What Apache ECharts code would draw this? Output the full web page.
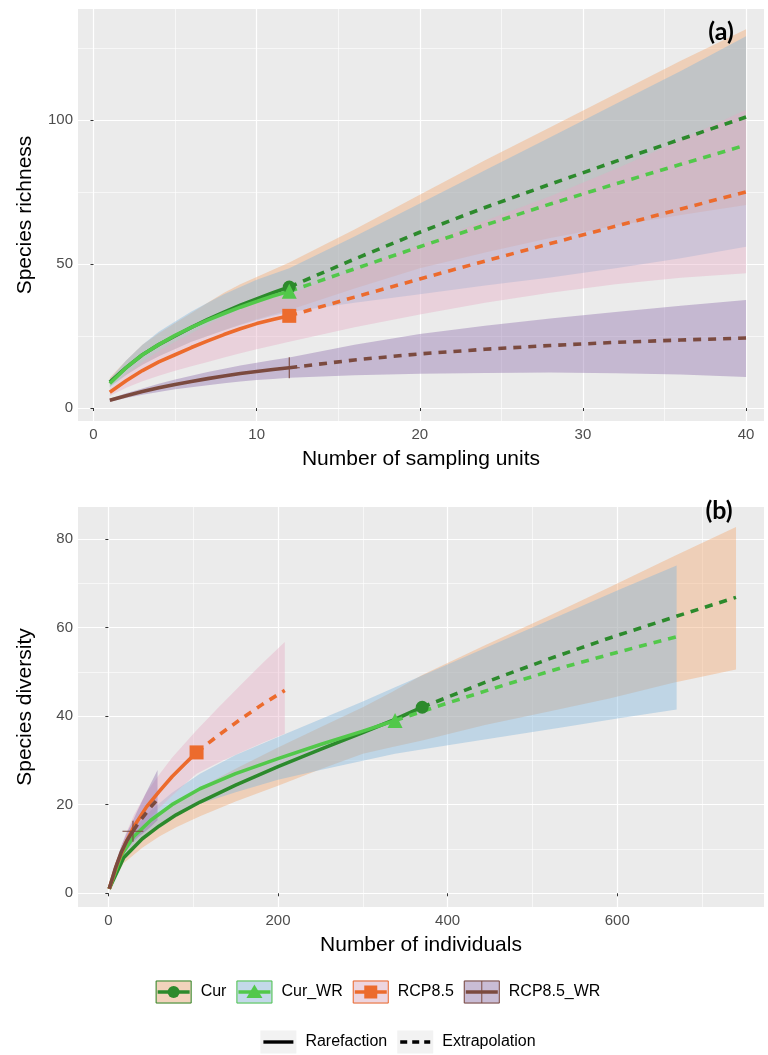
<!DOCTYPE html>
<html>
<head>
<meta charset="utf-8">
<script src="https://cdn.jsdelivr.net/npm/echarts@6/dist/echarts.min.js"></script>
<style>
  html, body { margin: 0; padding: 0; background: #ffffff; }
  #chart { width: 768px; height: 1055px; }
</style>
</head>
<body>
<div id="chart"></div>
<script>
// ---------- Assemblages ----------
const groups = ['Cur', 'Cur_WR', 'RCP8.5', 'RCP8.5_WR'];
const lineColors = ['#2C8A2C', '#52C84A', '#EC6B2D', '#7B4A3F'];
const bandColors = ['#F2A66B', '#7DB5DC', '#E7A9C4', '#8B6BAA'];

// ---------- Panel (a): sampling units ----------
const unitsA = [1, 2, 3, 4, 5, 6, 7, 8, 9, 10, 11, 12, 16, 20, 24, 28, 32, 36, 40];
const refIndexA = 11; // observed sample: 12 sampling units

const curA     = [9, 14, 18.5, 22, 25, 28, 30.8, 33.3, 35.7, 37.9, 40, 42, 51.7, 61, 69.6, 77.7, 85.6, 93.3, 101];
const curLoA   = [7.5, 11.5, 15, 18, 20.5, 23, 25, 27, 29, 30.8, 32.5, 34, 41.5, 48.5, 54, 59, 63.3, 67, 70.5];
const curHiA   = [10.5, 16.5, 22, 26, 29.5, 33, 36.5, 40, 43, 45.5, 48, 50.5, 62, 74, 86, 97.5, 109, 120.5, 131.5];

const curWrA   = [8.5, 14, 18.5, 22, 25.2, 28, 30.5, 32.8, 35, 37, 38.9, 40.5, 48.3, 56, 63.5, 70.8, 77.8, 84.6, 91.3];
const curWrLoA = [7, 11.5, 15, 18, 20.5, 23, 25, 27, 28.8, 30.5, 32, 33.3, 36.5, 39.5, 42.5, 45.3, 48.5, 52, 56];
const curWrHiA = [10, 16.5, 22, 26.5, 30, 33.5, 36.5, 39.5, 42, 44.5, 46.5, 48.5, 59.5, 71, 82.5, 94, 105.5, 117, 129];

const rcpA     = [5.5, 9.5, 13, 16, 18.5, 21, 23.3, 25.5, 27.5, 29.3, 30.7, 32, 38.5, 44.8, 51, 57.1, 63.1, 69.1, 75];
const rcpLoA   = [4.2, 7, 9.3, 11.2, 12.9, 14.5, 16, 17.5, 19, 20.4, 21.7, 23, 28, 32.5, 36.5, 40, 43, 45.2, 46.8];
const rcpHiA   = [6.8, 11.8, 16, 19.8, 23, 26, 29, 31.8, 34.3, 36.5, 38, 39.5, 48, 56.5, 65, 73.5, 83, 93, 103.5];

const rcpWrA   = [2.7, 4.3, 5.7, 7, 8.2, 9.2, 10.2, 11.1, 12, 12.7, 13.4, 14, 16.7, 18.8, 20.4, 21.7, 22.8, 23.6, 24.3];
const rcpWrLoA = [2.2, 3.5, 4.6, 5.6, 6.5, 7.2, 7.9, 8.6, 9.2, 9.7, 10.1, 10.5, 11.4, 11.9, 12.2, 12.3, 12.1, 11.6, 10.8];
const rcpWrHiA = [3.2, 5.1, 6.8, 8.4, 9.9, 11.2, 12.5, 13.6, 14.8, 15.7, 16.7, 17.5, 22, 25.7, 28.6, 31.1, 33.3, 35.5, 37.5];

const ticksXA = [0, 10, 20, 30, 40];
const ticksYA = [0, 50, 100];

// ---------- Panel (b): number of individuals ----------
const nCurB     = [1, 18, 40, 60, 80, 108, 150, 200, 250, 300, 335, 370, 444, 518, 592, 666, 740];
const refCurB   = 11;
const curB      = [1, 8, 12.3, 15.2, 17.7, 20.6, 24.4, 28.6, 32.5, 36.3, 39, 42, 47.6, 52.8, 57.7, 62.3, 66.8];
const curLoB    = [1, 6.8, 10.3, 12.8, 14.9, 17.4, 20.7, 24.3, 28, 31.5, 33, 34.5, 38, 41, 44, 47.5, 50.5];
const curHiB    = [1, 9.2, 14.3, 17.6, 20.5, 23.8, 28.1, 32.9, 37.5, 42, 45.5, 49.3, 56, 62.5, 69.2, 76, 82.7];

const nCurWrB   = [1, 15, 30, 50, 75, 108, 150, 200, 250, 300, 338, 404, 470, 536, 602, 670];
const refCurWrB = 10;
const curWrB    = [1, 8.5, 12.8, 16.5, 20, 23.6, 27, 30.4, 33.6, 36.6, 39, 43.2, 47.2, 51, 54.5, 57.9];
const curWrLoB  = [1, 7.3, 11, 14.3, 17.3, 20.2, 22.8, 25.6, 27.8, 29.9, 31.5, 33.5, 35.5, 37.5, 39.5, 41.5];
const curWrHiB  = [1, 9.7, 14.6, 18.7, 22.7, 27, 31.2, 35.3, 39.3, 43.3, 46.5, 52, 57.5, 63, 68.5, 74];

const nRcpB     = [1, 10, 20, 30, 45, 60, 75, 90, 104, 130, 156, 182, 208];
const refRcpB   = 8;
const rcpB      = [1, 6.5, 11.2, 15, 19.5, 23, 26.3, 29.2, 31.8, 35.7, 39.3, 42.7, 45.8];
const rcpLoB    = [1, 5.3, 9.2, 12.4, 16.2, 19.2, 22, 24.6, 27, 29.5, 31.8, 34, 36];
const rcpHiB    = [1, 7.7, 13.2, 17.6, 22.8, 26.8, 30.6, 33.8, 36.8, 42, 47, 52, 56.7];

const nRcpWrB   = [1, 8, 15, 22, 29, 36, 44, 51, 58];
const refRcpWrB = 4;
const rcpWrB    = [1, 5.5, 9.2, 11.9, 14, 16, 18, 19.7, 21.2];
const rcpWrLoB  = [1, 4.7, 7.8, 10, 11.6, 12.8, 14, 15.2, 16.5];
const rcpWrHiB  = [1, 6.3, 10.6, 13.8, 16.4, 19.3, 22.5, 25.2, 27.8];

const ticksXB = [0, 200, 400, 600];
const ticksYB = [0, 20, 40, 60, 80];

// ---------- helpers ----------
const FONT = '"Liberation Sans", Arial, sans-serif';
const plusPath = 'path://M0,10L20,10M10,0L10,20';
const symbols = ['circle', 'triangle', 'rect', plusPath];
const symbolSizes = [13, 15, 14, 21];

function zip(xs, ys) { return xs.map((x, i) => [x, ys[i]]); }

function bandSeries(axis, xs, lo, hi, color) {
  return {
    type: 'custom', xAxisIndex: axis, yAxisIndex: axis, silent: true, z: 1,
    data: [[xs[0], lo[0]]],
    renderItem: function (params, api) {
      const pts = [];
      for (let i = 0; i < xs.length; i++) pts.push(api.coord([xs[i], hi[i]]));
      for (let i = xs.length - 1; i >= 0; i--) pts.push(api.coord([xs[i], lo[i]]));
      return { type: 'polygon', shape: { points: pts }, style: { fill: color, opacity: 0.4 } };
    }
  };
}

function curveSeries(axis, xs, ys, ref, k) {
  const out = [];
  out.push({
    type: 'line', xAxisIndex: axis, yAxisIndex: axis, z: 3, silent: true,
    showSymbol: false, smooth: false,
    data: zip(xs.slice(0, ref + 1), ys.slice(0, ref + 1)),
    lineStyle: { color: lineColors[k], width: 3.6, cap: 'butt', join: 'round' }
  });
  out.push({
    type: 'line', xAxisIndex: axis, yAxisIndex: axis, z: 3, silent: true,
    showSymbol: false, smooth: false,
    data: zip(xs.slice(ref), ys.slice(ref)),
    lineStyle: { color: lineColors[k], width: 3.6, type: [8, 7], cap: 'butt', join: 'round' }
  });
  const isPlus = k === 3;
  out.push({
    type: 'scatter', xAxisIndex: axis, yAxisIndex: axis, z: 4, silent: true,
    symbol: symbols[k], symbolSize: symbolSizes[k],
    data: [[xs[ref], ys[ref]]],
    itemStyle: isPlus
      ? { color: 'transparent', borderColor: lineColors[k], borderWidth: 1.1, opacity: 1 }
      : { color: lineColors[k], opacity: 1 }
  });
  return out;
}

const panelA = [
  [curA, curLoA, curHiA], [curWrA, curWrLoA, curWrHiA],
  [rcpA, rcpLoA, rcpHiA], [rcpWrA, rcpWrLoA, rcpWrHiA]
];
const panelB = [
  [nCurB, curB, curLoB, curHiB, refCurB],
  [nCurWrB, curWrB, curWrLoB, curWrHiB, refCurWrB],
  [nRcpB, rcpB, rcpLoB, rcpHiB, refRcpB],
  [nRcpWrB, rcpWrB, rcpWrLoB, rcpWrHiB, refRcpWrB]
];

const series = [];
panelA.forEach((d, k) => series.push(bandSeries(0, unitsA, d[1], d[2], bandColors[k])));
panelB.forEach((d, k) => series.push(bandSeries(1, d[0], d[2], d[3], bandColors[k])));
panelA.forEach((d, k) => series.push(...curveSeries(0, unitsA, d[0], refIndexA, k)));
panelB.forEach((d, k) => series.push(...curveSeries(1, d[0], d[1], d[4], k)));

function xAxisCfg(grid, min, max, step, ticks, name) {
  return {
    type: 'value', gridIndex: grid, min: min, max: max,
    minInterval: step, maxInterval: step,
    name: name, nameLocation: 'middle', nameGap: 28,
    nameTextStyle: { fontSize: 21, color: '#000000', fontFamily: FONT },
    axisLine: { show: false },
    axisTick: { show: true, length: 3, customValues: ticks, lineStyle: { color: '#333333', width: 1 } },
    axisLabel: { customValues: ticks, color: '#4D4D4D', fontSize: 15, margin: 6, fontFamily: FONT },
    splitLine: { show: true, lineStyle: { color: '#FFFFFF', width: 1.2 } },
    minorTick: { show: false, splitNumber: 2 },
    minorSplitLine: { show: true, lineStyle: { color: '#FFFFFF', width: 0.6 } }
  };
}
function yAxisCfg(grid, min, max, step, ticks, name) {
  return {
    type: 'value', gridIndex: grid, min: min, max: max,
    minInterval: step, maxInterval: step,
    name: name, nameLocation: 'middle', nameGap: 42,
    nameTextStyle: { fontSize: 21, color: '#000000', fontFamily: FONT },
    axisLine: { show: false },
    axisTick: { show: true, length: 3, customValues: ticks, lineStyle: { color: '#333333', width: 1 } },
    axisLabel: { customValues: ticks, color: '#4D4D4D', fontSize: 15, margin: 5, fontFamily: FONT },
    splitLine: { show: true, lineStyle: { color: '#FFFFFF', width: 1.2 } },
    minorTick: { show: false, splitNumber: 2 },
    minorSplitLine: { show: true, lineStyle: { color: '#FFFFFF', width: 0.6 } }
  };
}

// ---------- legend (drawn as graphic elements) ----------
const measureCtx = document.createElement('canvas').getContext('2d');
function textWidth(t, size) { measureCtx.font = size + 'px ' + FONT; return measureCtx.measureText(t).width; }

const graphics = [];
const LEG_SIZE = 16, KEY_W = 36, KEY_H = 23, GAP_KT = 9, GAP_ITEM = 10, LEG_CX = 378;

function keyMarker(k, cx, cy) {
  const c = lineColors[k];
  if (k === 0) return [{ type: 'circle', shape: { cx: cx, cy: cy, r: 6 }, style: { fill: c } }];
  if (k === 1) return [{ type: 'polygon', shape: { points: [[cx, cy - 7.5], [cx + 8, cy + 6], [cx - 8, cy + 6]] }, style: { fill: c } }];
  if (k === 2) return [{ type: 'rect', shape: { x: cx - 6.5, y: cy - 6.5, width: 13, height: 13 }, style: { fill: c } }];
  return [{ type: 'line', shape: { x1: cx, y1: cy - 11, x2: cx, y2: cy + 11 }, style: { stroke: c, lineWidth: 1 } }];
}

(function row1() {
  const cy = 992;
  let total = 0;
  groups.forEach((g, k) => { total += KEY_W + GAP_KT + textWidth(g, LEG_SIZE) + (k < 3 ? GAP_ITEM : 0); });
  let x = LEG_CX - total / 2;
  groups.forEach((g, k) => {
    const y0 = cy - KEY_H / 2;
    graphics.push({ type: 'rect', silent: true, shape: { x: x, y: y0, width: KEY_W, height: KEY_H }, style: { fill: '#F2F2F2' } });
    graphics.push({ type: 'rect', silent: true, shape: { x: x, y: y0, width: KEY_W, height: KEY_H }, style: { fill: bandColors[k], opacity: 0.4 } });
    graphics.push({ type: 'rect', silent: true, shape: { x: x + 0.5, y: y0 + 0.5, width: KEY_W - 1, height: KEY_H - 1 }, style: { fill: 'none', stroke: lineColors[k], lineWidth: 1 } });
    graphics.push({ type: 'line', silent: true, shape: { x1: x + 2, y1: cy, x2: x + KEY_W - 2, y2: cy }, style: { stroke: lineColors[k], lineWidth: 3.6 } });
    keyMarker(k, x + KEY_W / 2, cy).forEach(m => { m.silent = true; graphics.push(m); });
    graphics.push({ type: 'text', silent: true, x: x + KEY_W + GAP_KT, y: cy,
      style: { text: g, fill: '#000000', font: LEG_SIZE + 'px ' + FONT, verticalAlign: 'middle', align: 'left' } });
    x += KEY_W + GAP_KT + textWidth(g, LEG_SIZE) + GAP_ITEM;
  });
})();

(function row2() {
  const cy = 1042;
  const labels = ['Rarefaction', 'Extrapolation'];
  let total = 0;
  labels.forEach((t, i) => { total += KEY_W + GAP_KT + textWidth(t, LEG_SIZE) + (i === 0 ? GAP_ITEM : 0); });
  let x = LEG_CX + 20 - total / 2;
  labels.forEach((t, i) => {
    graphics.push({ type: 'rect', silent: true, shape: { x: x, y: cy - KEY_H / 2, width: KEY_W, height: KEY_H }, style: { fill: '#F2F2F2' } });
    graphics.push({ type: 'line', silent: true, shape: { x1: x + 3, y1: cy, x2: x + KEY_W - 3, y2: cy },
      style: { stroke: '#000000', lineWidth: 3.4, lineDash: i === 0 ? null : [7, 5] } });
    graphics.push({ type: 'text', silent: true, x: x + KEY_W + GAP_KT, y: cy,
      style: { text: t, fill: '#000000', font: LEG_SIZE + 'px ' + FONT, verticalAlign: 'middle', align: 'left' } });
    x += KEY_W + GAP_KT + textWidth(t, LEG_SIZE) + GAP_ITEM;
  });
})();

// panel tags
graphics.push({ type: 'text', silent: true, x: 721, y: 32, z: 10,
  style: { text: '(a)', fill: '#000000', font: 'bold 25px Lato, "Open Sans", sans-serif', align: 'center', verticalAlign: 'middle' } });
graphics.push({ type: 'text', silent: true, x: 719, y: 511, z: 10,
  style: { text: '(b)', fill: '#000000', font: 'bold 25px Lato, "Open Sans", sans-serif', align: 'center', verticalAlign: 'middle' } });

const option = {
  animation: false,
  backgroundColor: '#FFFFFF',
  textStyle: { fontFamily: FONT },
  grid: [
    { left: 78, top: 9, width: 686, height: 412, show: true, backgroundColor: '#EBEBEB', borderWidth: 0 },
    { left: 78, top: 507, width: 686, height: 400, show: true, backgroundColor: '#EBEBEB', borderWidth: 0 }
  ],
  xAxis: [
    xAxisCfg(0, -0.95, 41.1, 10, ticksXA, 'Number of sampling units'),
    xAxisCfg(1, -35.8, 773, 200, ticksXB, 'Number of individuals')
  ],
  yAxis: [
    yAxisCfg(0, -4.5, 138.5, 50, ticksYA, 'Species richness'),
    yAxisCfg(1, -3.1, 87.2, 20, ticksYB, 'Species diversity')
  ],
  series: series,
  graphic: graphics
};

const chart = echarts.init(document.getElementById('chart'), null, { renderer: 'canvas' });
chart.setOption(option);
</script>
</body>
</html>
